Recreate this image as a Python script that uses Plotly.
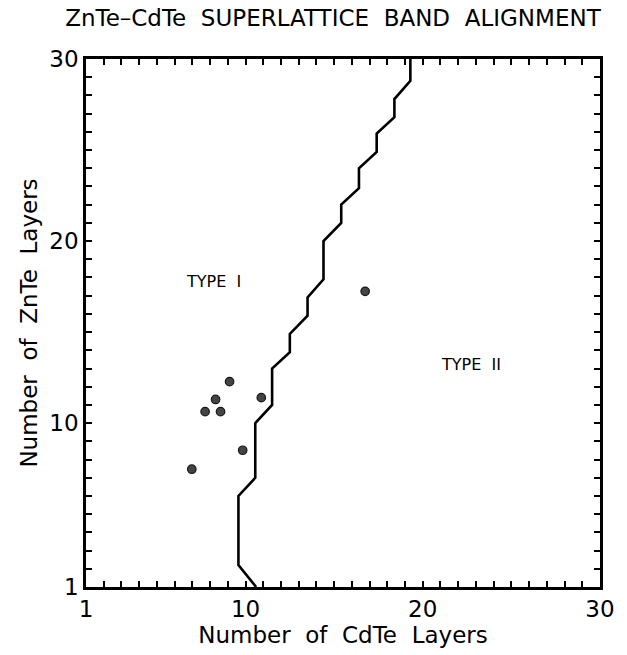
import plotly.graph_objects as go

# Boundary between Type I and Type II band alignment (staircase curve)
boundary_cdte = [10.6, 9.6, 9.6, 10.55, 10.55, 11.5, 11.5, 12.5, 12.5, 13.5, 13.5, 14.4,
                 14.4, 15.4, 15.4, 16.4, 16.4, 17.4, 17.4, 18.4, 18.4, 19.3, 19.3]
boundary_znte = [1.0, 2.2, 6.0, 7.0, 10.0, 11.0, 13.0, 13.9, 14.9, 15.9, 16.9, 17.9,
                 20.0, 21.0, 22.0, 22.9, 24.0, 24.9, 25.9, 26.8, 27.8, 28.8, 30.0]

# Measured superlattice samples
sample_cdte = [6.97, 7.72, 8.59, 8.31, 9.1, 10.89, 9.84, 16.75]
sample_znte = [7.47, 10.63, 10.63, 11.3, 12.28, 11.4, 8.51, 17.24]

# Axis ticks
tick_vals = list(range(1, 31))
major_labels = {1: "1", 10: "10", 20: "20", 30: "30"}
tick_text = [major_labels.get(v, "") for v in tick_vals]

# Region labels
region_names = ["TYPE\u00a0\u00a0I", "TYPE\u00a0\u00a0II"]
region_cdte = [8.2, 22.7]
region_znte = [17.8, 13.2]

FONT = "DejaVu Sans"
SP = "\u00a0\u00a0"

fig = go.Figure()
fig.add_trace(go.Scatter(
    x=boundary_cdte, y=boundary_znte, mode="lines",
    line=dict(color="black", width=2.6), hoverinfo="skip", showlegend=False))
fig.add_trace(go.Scatter(
    x=sample_cdte, y=sample_znte, mode="markers",
    marker=dict(size=8.5, color="#444444", line=dict(color="#151515", width=1.2)),
    showlegend=False))

for name, xv, yv in zip(region_names, region_cdte, region_znte):
    fig.add_annotation(x=xv, y=yv, text=name, showarrow=False,
                       font=dict(family=FONT, size=16, color="black"))

axis_common = dict(
    tickmode="array", tickvals=tick_vals, ticktext=tick_text,
    ticks="inside", ticklen=6, tickwidth=1.6, tickcolor="black",
    showline=True, linewidth=2.6, linecolor="black", mirror="ticks",
    showgrid=False, zeroline=False,
    tickfont=dict(family=FONT, size=23, color="black"),
)

fig.update_layout(
    width=627, height=655,
    margin=dict(l=86, r=16, t=59, b=67),
    paper_bgcolor="white", plot_bgcolor="white",
    title=dict(text="ZnTe\u2013CdTe" + SP + "SUPERLATTICE" + SP + "BAND" + SP + "ALIGNMENT",
               x=0.531, xref="container", xanchor="center",
               y=1 - 18 / 655, yref="container", yanchor="middle",
               font=dict(family=FONT, size=23, color="black")),
    xaxis=dict(range=[1, 30],
               title=dict(text="Number" + SP + "of" + SP + "CdTe" + SP + "Layers",
                          font=dict(family=FONT, size=23, color="black"), standoff=4),
               **axis_common),
    yaxis=dict(range=[1, 30],
               title=dict(text="Number" + SP + "of" + SP + "ZnTe" + SP + "Layers",
                          font=dict(family=FONT, size=23, color="black"), standoff=6),
               **axis_common),
)

fig.write_html("out.html", config={"displayModeBar": False})
